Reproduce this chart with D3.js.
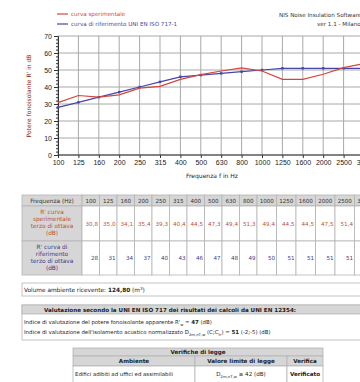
<!DOCTYPE html>
<html>
<head>
<meta charset="utf-8">
<script src="https://cdn.jsdelivr.net/npm/d3@7"></script>
<style>
  html, body { margin: 0; padding: 0; background: #fff; overflow: hidden; }
  svg { display: block; }
  text { font-family: "DejaVu Sans", Verdana, sans-serif; }
</style>
</head>
<body>
<script>
// Third-octave band centre frequencies (Hz)
const frequencies = [100, 125, 160, 200, 250, 315, 400, 500, 630, 800, 1000, 1250, 1600, 2000, 2500, 3150];
// Measured apparent sound reduction index R' (dB)
const measured = [30.8, 35.0, 34.1, 35.4, 39.3, 40.4, 44.5, 47.3, 49.4, 51.3, 49.4, 44.5, 44.5, 47.5, 51.4, 53.7];
// Reference curve UNI EN ISO 717-1, shifted (dB)
const reference = [28, 31, 34, 37, 40, 43, 46, 47, 48, 49, 50, 51, 51, 51, 51, 51];
const yTicks = [0, 10, 20, 30, 40, 50, 60, 70];

const RED = "#d4463c", BLUE = "#4646a8";
const TRED = "#b9533c", TBLUE = "#3c3c8c";
const GRID = "#a8a8a8", CELLBG = "#d6d6d6", BORDER = "#b4b4b4";

const W = 420, H = 382;
const svg = d3.select("body").append("svg").attr("width", W).attr("height", H);

// ---------- chart ----------
const x = d3.scalePoint().domain(frequencies).range([58, 364]);
const y = d3.scaleLinear().domain([0, 70]).range([155, 36]);

const grid = svg.append("g");
grid.selectAll("line.v").data(frequencies).join("line")
  .attr("x1", d => x(d)).attr("x2", d => x(d))
  .attr("y1", y(70)).attr("y2", y(0))
  .attr("stroke", GRID).attr("stroke-width", 1);
grid.selectAll("line.h").data(yTicks).join("line")
  .attr("x1", x(100)).attr("x2", W)
  .attr("y1", d => y(d)).attr("y2", d => y(d))
  .attr("stroke", GRID).attr("stroke-width", 1);

const yAxis = svg.append("g").attr("transform", `translate(${x(100)},0)`)
  .call(d3.axisLeft(y).tickValues(yTicks).tickSize(4).tickPadding(2));
const yMinor = svg.append("g").attr("transform", `translate(${x(100)},0)`)
  .call(d3.axisLeft(y).tickValues(d3.range(0, 71, 2)).tickSize(2).tickFormat(""));
yMinor.select(".domain").remove();
const xAxis = svg.append("g").attr("transform", `translate(0,${y(0)})`)
  .call(d3.axisBottom(x).tickSize(3).tickPadding(2));
[yAxis, xAxis, yMinor].forEach(a => {
  a.selectAll("line").attr("stroke", "#333");
  a.select(".domain").attr("stroke", "#333");
  a.selectAll("text").attr("fill", "#222")
    .style("font-family", "'Liberation Sans', Arial, sans-serif").style("font-size", "7px");
});
xAxis.select(".domain").attr("d", `M${x(100)},0H${W}`);

const line = (vals) => d3.line().x((d, i) => x(frequencies[i])).y(d => y(d))(vals);
svg.append("path").attr("d", line(reference)).attr("fill", "none")
  .attr("stroke", BLUE).attr("stroke-width", 1.2);
svg.selectAll("rect.mk").data(reference).join("rect")
  .attr("x", (d, i) => x(frequencies[i]) - 1.2).attr("y", d => y(d) - 1.2)
  .attr("width", 2.4).attr("height", 2.4).attr("fill", BLUE);
svg.append("path").attr("d", line(measured)).attr("fill", "none")
  .attr("stroke", RED).attr("stroke-width", 1.2);

svg.append("text").attr("transform", "translate(31,96) rotate(-90)")
  .attr("text-anchor", "middle").attr("font-size", 6).attr("fill", "#8a2a1a")
  .text("Potere fonoisolante R' in dB");
svg.append("text").attr("x", 186).attr("y", 178).attr("font-size", 6).attr("fill", "#222")
  .text("Frequenza f in Hz");

// legend
const legend = [["curva sperimentale", RED, 14], ["curva di riferimento UNI EN ISO 717-1", BLUE, 24]];
legend.forEach(([t, c, ly]) => {
  svg.append("line").attr("x1", 57).attr("x2", 68).attr("y1", ly).attr("y2", ly)
    .attr("stroke", c).attr("stroke-width", 1.2);
  svg.append("text").attr("x", 71).attr("y", ly + 2).attr("font-size", 5.6).attr("fill", c).text(t);
});
svg.append("text").attr("x", 279).attr("y", 17).attr("font-size", 5.6).attr("fill", "#333")
  .text("NIS Noise Insulation Software");
svg.append("text").attr("x", 317).attr("y", 26).attr("font-size", 5.6).attr("fill", "#333")
  .text("ver 1.1 - Milano");

// ---------- spectrum table ----------
const t0 = 22, labelW = 60;
const colW = frequencies.map(f => String(f).length > 3 ? 19.5 : 17.5);
const colX = [];
colW.reduce((acc, w, i) => { colX[i] = acc; return acc + w; }, t0 + labelW);
const rows = [
  { top: 195, h: 11 },
  { top: 206, h: 35 },
  { top: 241, h: 34 }
];
const tbl = svg.append("g");
// label column cells
rows.forEach((r, ri) => {
  tbl.append("rect").attr("x", t0).attr("y", r.top).attr("width", labelW).attr("height", r.h)
    .attr("fill", CELLBG).attr("stroke", BORDER).attr("stroke-width", 0.8);
});
// header cells
tbl.selectAll("rect.hd").data(frequencies).join("rect")
  .attr("x", (d, i) => colX[i]).attr("y", rows[0].top).attr("width", (d, i) => colW[i]).attr("height", rows[0].h)
  .attr("fill", CELLBG).attr("stroke", BORDER).attr("stroke-width", 0.8);
tbl.selectAll("text.hd").data(frequencies).join("text")
  .attr("x", (d, i) => colX[i] + colW[i] / 2).attr("y", rows[0].top + 7.8)
  .attr("text-anchor", "middle").attr("font-size", 5.6).attr("fill", "#333").text(d => d);
tbl.append("text").attr("x", t0 + labelW / 2).attr("y", rows[0].top + 7.8).attr("text-anchor", "middle")
  .attr("font-size", 5.8).attr("fill", "#333").text("Frequenza (Hz)");

const fmt = v => d3.format(".1f")(v).replace(".", ",");
[[measured, rows[1], TRED, fmt, ["R' curva", "sperimentale", "terzo di ottava", "(dB)"]],
 [reference, rows[2], TBLUE, v => String(v), ["R' curva di", "riferimento", "terzo di ottava", "(dB)"]]]
.forEach(([vals, r, c, f, lab]) => {
  const g = tbl.append("g");
  g.selectAll("rect").data(vals).join("rect")
    .attr("x", (d, i) => colX[i]).attr("y", r.top).attr("width", (d, i) => colW[i]).attr("height", r.h)
    .attr("fill", "#fff").attr("stroke", BORDER).attr("stroke-width", 0.8);
  g.selectAll("text").data(vals).join("text")
    .attr("x", (d, i) => colX[i] + colW[i] - 1.5).attr("y", r.top + r.h / 2 + 2)
    .attr("text-anchor", "end").attr("font-size", 5.6).attr("fill", c).text(f);
  lab.forEach((s, k) => {
    tbl.append("text").attr("x", t0 + labelW / 2).attr("y", r.top + 8 + k * 7)
      .attr("text-anchor", "middle").attr("font-size", 5.8).attr("fill", c).text(s);
  });
});

// ---------- room volume ----------
svg.append("rect").attr("x", t0).attr("y", 283).attr("width", 400).attr("height", 13)
  .attr("fill", "#fff").attr("stroke", BORDER).attr("stroke-width", 0.8);
const vt = svg.append("text").attr("x", 24).attr("y", 291.5).attr("font-size", 5.8).attr("fill", "#222");
vt.append("tspan").text("Volume ambiente ricevente: ");
vt.append("tspan").attr("font-weight", "bold").text("124,80");
vt.append("tspan").text(" (m");
vt.append("tspan").attr("font-size", 4).attr("dy", -2).text("3");
vt.append("tspan").attr("dy", 2).text(")");

// ---------- ISO 717 evaluation ----------
svg.append("rect").attr("x", t0).attr("y", 305).attr("width", 400).attr("height", 35)
  .attr("fill", "#fff").attr("stroke", BORDER).attr("stroke-width", 0.8);
svg.append("rect").attr("x", t0).attr("y", 305).attr("width", 400).attr("height", 9)
  .attr("fill", CELLBG).attr("stroke", BORDER).attr("stroke-width", 0.8);
svg.append("text").attr("x", 44).attr("y", 312).attr("font-size", 5.6).attr("font-weight", "bold")
  .attr("fill", "#222").text("Valutazione secondo la UNI EN ISO 717 dei risultati dei calcoli da UNI EN 12354:");
const e1 = svg.append("text").attr("x", 24).attr("y", 324).attr("font-size", 5.4).attr("fill", "#222");
e1.append("tspan").text("Indice di valutazione del potere fonoisolante apparente R'");
e1.append("tspan").attr("font-size", 3.8).attr("dy", 1.5).text("w");
e1.append("tspan").attr("dy", -1.5).text(" = ");
e1.append("tspan").attr("font-weight", "bold").text("47");
e1.append("tspan").text(" (dB)");
const e2 = svg.append("text").attr("x", 24).attr("y", 334).attr("font-size", 5.4).attr("fill", "#222");
e2.append("tspan").text("Indice di valutazione dell'isolamento acustico normalizzato D");
e2.append("tspan").attr("font-size", 3.8).attr("dy", 1.5).text("2m,nT,w");
e2.append("tspan").attr("dy", -1.5).text(" (C;C");
e2.append("tspan").attr("font-size", 3.8).attr("dy", 1.5).text("tr");
e2.append("tspan").attr("dy", -1.5).text(") = ");
e2.append("tspan").attr("font-weight", "bold").text("51");
e2.append("tspan").text(" (-2;-5) (dB)");

// ---------- legal checks ----------
const vx = [73, 195, 287, 323];
svg.append("rect").attr("x", vx[0]).attr("y", 348).attr("width", vx[3] - vx[0]).attr("height", 8)
  .attr("fill", CELLBG).attr("stroke", BORDER).attr("stroke-width", 0.8);
svg.append("text").attr("x", (vx[0] + vx[3]) / 2).attr("y", 354.3).attr("text-anchor", "middle")
  .attr("font-size", 5.6).attr("font-weight", "bold").attr("fill", "#222").text("Verifiche di legge");
const heads = ["Ambiente", "Valore limite di legge", "Verifica"];
heads.forEach((h, i) => {
  svg.append("rect").attr("x", vx[i]).attr("y", 356).attr("width", vx[i + 1] - vx[i]).attr("height", 10)
    .attr("fill", CELLBG).attr("stroke", BORDER).attr("stroke-width", 0.8);
  svg.append("text").attr("x", (vx[i] + vx[i + 1]) / 2).attr("y", 363.2).attr("text-anchor", "middle")
    .attr("font-size", 5.6).attr("font-weight", "bold").attr("fill", "#222").text(h);
  svg.append("rect").attr("x", vx[i]).attr("y", 366).attr("width", vx[i + 1] - vx[i]).attr("height", 17)
    .attr("fill", "#fff").attr("stroke", BORDER).attr("stroke-width", 0.8);
});
svg.append("clipPath").attr("id", "c0").append("rect").attr("x", vx[0]).attr("y", 366)
  .attr("width", vx[1] - vx[0] - 1).attr("height", 17);
svg.append("text").attr("clip-path", "url(#c0)").attr("x", 75).attr("y", 376).attr("font-size", 5.4)
  .attr("fill", "#222").text("Edifici adibiti ad uffici ed assimilabili");
const lim = svg.append("text").attr("x", (vx[1] + vx[2]) / 2).attr("y", 376).attr("text-anchor", "middle")
  .attr("font-size", 5.6).attr("fill", "#222");
lim.append("tspan").text("D");
lim.append("tspan").attr("font-size", 3.8).attr("dy", 1.5).text("2m,nT,w");
lim.append("tspan").attr("dy", -1.5).text(" \u2265 42 (dB)");
svg.append("text").attr("x", (vx[2] + vx[3]) / 2).attr("y", 376).attr("text-anchor", "middle")
  .attr("font-size", 5.6).attr("font-weight", "bold").attr("fill", "#222").text("Verificato");
</script>
</body>
</html>
